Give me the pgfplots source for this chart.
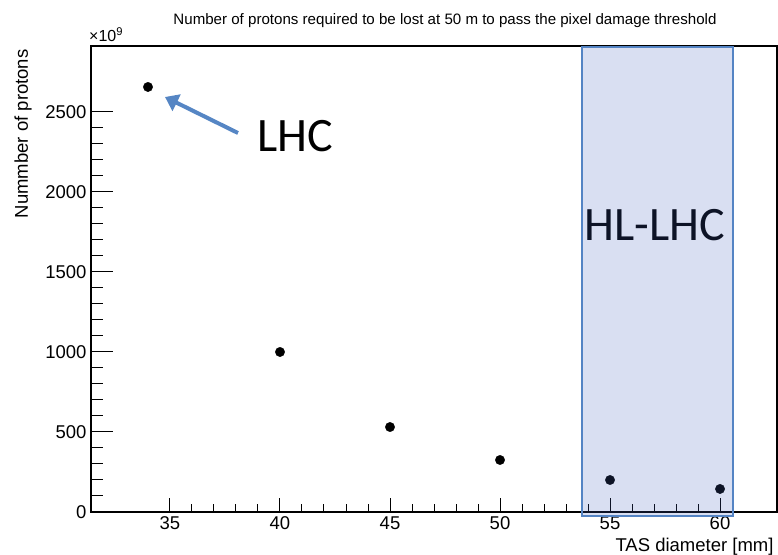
\documentclass[border=0pt]{standalone}
\usepackage{pgfplots}
\pgfplotsset{compat=1.18}
\usepackage{fontspec}
\setmainfont{Liberation Sans}
\newfontfamily\calibri{Carlito}
\usetikzlibrary{arrows.meta}
\definecolor{hlfill}{RGB}{65,95,190}
\definecolor{hledge}{RGB}{84,132,196}
\definecolor{arrowc}{RGB}{86,134,196}
\pgfplotstableread{
x y
34 2656
40 1000
45 531
50 325
55 200
60 144
}\protons
\begin{document}
\begin{tikzpicture}[x=1pt,y=1pt]
\useasboundingbox (-91,-42) rectangle (687,512);
\pgfplotsset{
  base/.style={
    at={(0,0)}, anchor=south west,
    scale only axis, width=686pt, height=466pt,
    xmin=31.41, xmax=62.59, ymin=0, ymax=2912,
    tick align=inside,
    /pgf/number format/assume math mode=true,
    /pgf/number format/1000 sep={},
    tick label style={font=\fontsize{18.5}{20}\selectfont},
    tick style={black, line width=1pt},
    scaled ticks=false,
  }
}
\begin{axis}[base,
  xtick={35,40,...,60}, minor x tick num=4,
  xtick pos=left, ytick=\empty,
  major tick length=14pt, minor tick length=8pt,
  xticklabel style={yshift=-1pt},
  axis line style={black, line width=1.2pt},
  clip=false]
\addplot[only marks, mark=*, mark size=4.7pt, black] table[x=x,y=y] {\protons};
\end{axis}
\begin{axis}[base,
  ytick={0,500,...,2500}, minor y tick num=4,
  ytick pos=left, xtick=\empty,
  major tick length=22pt, minor tick length=12pt,
  axis line style={draw=none},
  yticklabel style={xshift=-1pt}]
\end{axis}
% labels
\node[anchor=base, font=\fontsize{15.1}{17}\selectfont] at (354,487.5)
  {Number of protons required to be lost at 50 m to pass the pixel damage threshold};
\node[anchor=base east, rotate=90, font=\fontsize{18.5}{20}\selectfont] at (-63,466) {Nummber of protons};
\node[anchor=base east, font=\fontsize{18.5}{20}\selectfont] at (686,-39) {TAS diameter [mm]};
\node[anchor=base west, font=\fontsize{16}{18}\selectfont, inner sep=0pt] at (-2,470) {×10\textsuperscript{9}};
% annotations
\draw[arrowc, line width=4pt, -{Triangle[length=13pt,width=18pt]}] (147,379) -- (74,415);
\node[font=\calibri\fontsize{48}{50}\selectfont, text=black] at (204,376) {LHC};
\node[font=\calibri\fontsize{48}{50}\selectfont, text=black] at (564,287) {HL-LHC};
\fill[hlfill, fill opacity=0.2] (491,-4) rectangle (642,465);
\draw[hledge, line width=2pt] (491,-4) rectangle (642,465);
\end{tikzpicture}
\end{document}
